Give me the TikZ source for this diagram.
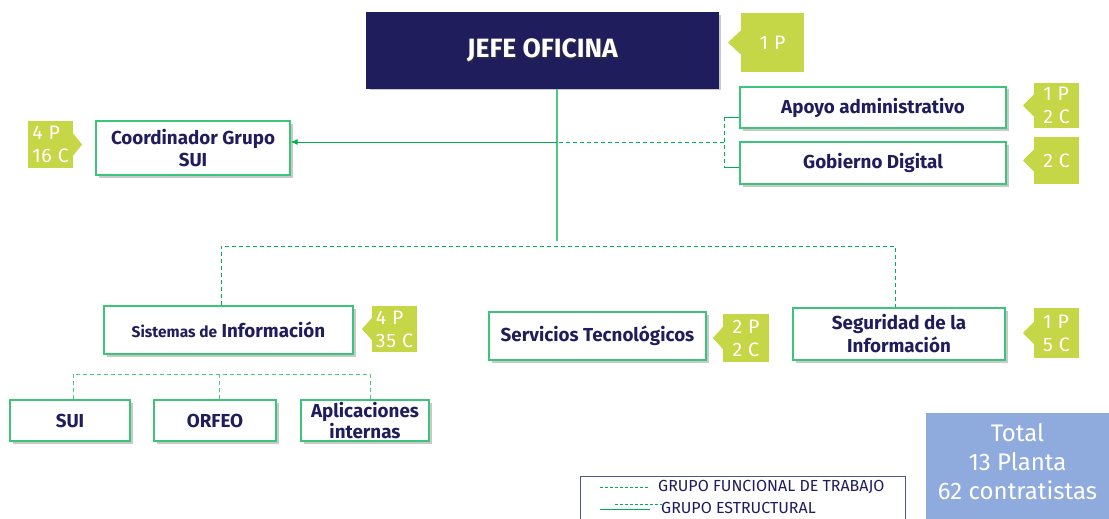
\documentclass[tikz,border=0pt]{standalone}
\usepackage{fontspec}
\setmainfont{Fira Sans}
\newfontfamily\badgefont[LetterSpace=4]{Fira Sans}
\usetikzlibrary{shadows,arrows.meta,calc}
\definecolor{navy}{HTML}{1F1D5C}
\definecolor{gline}{HTML}{00B050}
\definecolor{gvert}{HTML}{4CC784}
\definecolor{gbox}{HTML}{3CC47A}
\definecolor{lime}{HTML}{C5D646}
\definecolor{totalc}{HTML}{8FAADC}
\definecolor{legb}{HTML}{4A5A8A}
\tikzset{
  orgbox/.style={draw=gbox, line width=1.2pt, fill=white, inner sep=2pt, align=center,
    text=navy, font=\fontsize{18.8}{22}\selectfont\bfseries,
    drop shadow={shadow xshift=2.5pt, shadow yshift=-2.5pt, opacity=0.3, fill=black!70}},
  badge/.style={fill=lime, text=white, inner sep=0pt, align=left,
    font=\badgefont\fontsize{19.5}{23}\selectfont},
  sline/.style={gline, line width=0.9pt},
  dline/.style={gline, line width=0.9pt, dash pattern=on 4pt off 3pt},
}
\begin{document}
\begin{tikzpicture}[x=1pt,y=-1pt]
\useasboundingbox (0,0) rectangle (1109,519);
% main boxes
\node[orgbox, fill=navy, draw=navy, minimum width=351pt, minimum height=75pt] (jefe) at (542.5,50.5) {};
\node[text=black!80, font=\fontsize{26.5}{28}\selectfont\bfseries, opacity=0.6] at (544,52) {JEFE OFICINA};
\node[text=white, font=\fontsize{26.5}{28}\selectfont\bfseries] (jefet) at (542.5,50.5) {JEFE OFICINA};

\node[orgbox, minimum width=266pt, minimum height=41pt] (apoyo) at (873,107.5) {Apoyo administrativo};
\node[orgbox, minimum width=266pt, minimum height=42pt] (gob) at (873,163) {Gobierno Digital};
\node[orgbox, minimum width=194pt, minimum height=54pt, font=\fontsize{18.8}{22}\selectfont\bfseries] (coord) at (193,148) {Coordinador Grupo\\SUI};
\node[orgbox, minimum width=249pt, minimum height=48pt] (sist) at (228.5,330) {{\fontsize{15.5}{17}\selectfont Sistemas de} Información};
\node[orgbox, minimum width=217pt, minimum height=48pt] (serv) at (597.5,336) {Servicios Tecnológicos};
\node[orgbox, minimum width=212pt, minimum height=52pt, font=\fontsize{18.8}{23}\selectfont\bfseries] (seg) at (899,334) {Seguridad de la\\Información};
\node[orgbox, minimum width=120pt, minimum height=41pt] (sui) at (70,420.5) {SUI};
\node[orgbox, minimum width=122pt, minimum height=41pt] (orfeo) at (215,420.5) {ORFEO};
\node[orgbox, minimum width=128pt, minimum height=41pt, font=\fontsize{18.8}{17}\selectfont\bfseries] (apl) at (365,420.5) {Aplicaciones\\internas};

% badges
\node[badge, minimum width=63pt, minimum height=59pt, align=center] (b1) at (772.5,42.5) {1 P};
\fill[lime] ($(b1.west)+(0,-12)$) -- (728,42.5) -- ($(b1.west)+(0,12)$) -- cycle;
\node[badge, minimum width=45pt, minimum height=45pt] (b2) at (1056.5,105.5) {1 P\\2 C};
\fill[lime] ($(b2.west)+(0,-11)$) -- (1023,105.5) -- ($(b2.west)+(0,11)$) -- cycle;
\node[badge, minimum width=45pt, minimum height=47pt] (b3) at (1056.5,160.5) {2 C};
\fill[lime] ($(b3.west)+(0,-11)$) -- (1023,160.5) -- ($(b3.west)+(0,11)$) -- cycle;
\node[badge, minimum width=45pt, minimum height=47pt] (b4) at (50.5,144.5) {4 P\\16 C};
\fill[lime] ($(b4.east)+(0,-11)$) -- (82,144.5) -- ($(b4.east)+(0,11)$) -- cycle;
\node[badge, minimum width=45pt, minimum height=46pt] (b5) at (394.5,329) {4 P\\35 C};
\fill[lime] ($(b5.west)+(0,-11)$) -- (362,329) -- ($(b5.west)+(0,11)$) -- cycle;
\node[badge, minimum width=46pt, minimum height=48pt] (b6) at (746,338) {2 P\\2 C};
\fill[lime] ($(b6.west)+(0,-11)$) -- (713,338) -- ($(b6.west)+(0,11)$) -- cycle;
\node[badge, minimum width=45pt, minimum height=50pt] (b7) at (1056.5,333) {1 P\\5 C};
\fill[lime] ($(b7.west)+(0,-11)$) -- (1023,333) -- ($(b7.west)+(0,11)$) -- cycle;

% connectors
\coordinate (hub) at (557,241);
\coordinate (aj) at (557,142);
\coordinate (br) at (724,142);
\coordinate (brt) at (724,117);
\coordinate (brb) at (724,167);
\draw[sline, gvert, line width=1.1pt] (jefe.south -| hub) -- (hub);
\draw[sline, -{Latex[length=7pt,width=6pt]}] (aj) -- (coord.east |- aj);
\draw[dline] (br) -- (aj);
\draw[dline] (brt) -- (brb);
\draw[sline] (brt) -- (apoyo.west |- brt);
\draw[sline] (brb) -- (gob.west |- brb);

\coordinate (hl) at (221,246);
\coordinate (hr) at (895,246);
\draw[dline] (sist.north -| hl) -- (hl) -- (hr) -- (seg.north -| hr);

\coordinate (sl) at (73,374);
\coordinate (sm) at (219,374);
\coordinate (sr) at (370,374);
\draw[dline, gvert] (sui.north -| sl) -- (sl) -- (sr) -- (apl.north -| sr);
\draw[dline, gvert] (sm) -- (orfeo.north -| sm);

% legend
\node[draw=legb, line width=0.8pt, minimum width=325pt, minimum height=60pt, anchor=north west] (leg) at (580,476) {};
\coordinate (l1a) at (600,487);
\coordinate (l1b) at (648,487);
\draw[gline, line width=0.7pt, dash pattern=on 3pt off 2pt] (l1a) -- (l1b);
\node[anchor=west, text=navy, font=\fontsize{16}{18}\selectfont, inner sep=0pt] (lt1) at (658,487) {GRUPO FUNCIONAL DE TRABAJO};
\coordinate (l2a) at (600,509);
\coordinate (l2b) at (650,509);
\draw[gline, line width=0.8pt] (l2a) -- (l2b);
\coordinate (l3a) at (615,504);
\coordinate (l3b) at (662,504);
\draw[gline, line width=0.7pt, dash pattern=on 3pt off 2pt] (l3a) -- (l3b);
\node[anchor=west, text=navy, font=\fontsize{16}{18}\selectfont, inner sep=0pt] (lt2) at (661,507.5) {GRUPO ESTRUCTURAL};

% total
\node[fill=totalc, minimum width=190pt, minimum height=106pt, anchor=north west, inner sep=0pt] (total) at (926,413) {};
\node[text=white, align=center, font=\fontsize{24}{29}\selectfont] (tt) at (1017.5,462) {Total\\13 Planta\\62 contratistas};
\end{tikzpicture}
\end{document}
